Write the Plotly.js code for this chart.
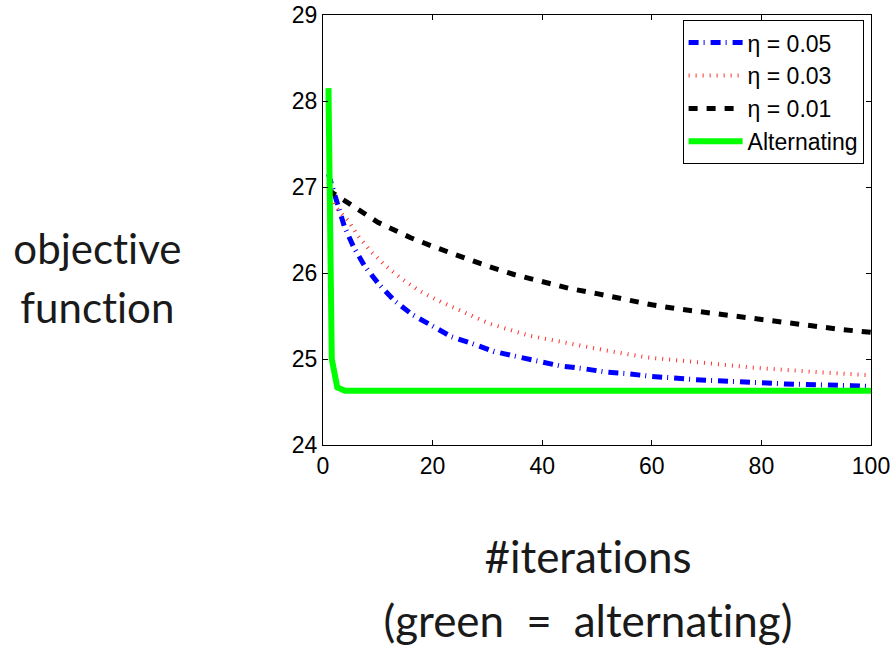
<!DOCTYPE html>
<html>
<head>
<meta charset="utf-8">
<script src="https://cdn.plot.ly/plotly-3.0.1.min.js"></script>
<style>
html,body{margin:0;padding:0;background:#fff;}
#chart{width:894px;height:648px;}
#chart text{font-variant-ligatures:none;font-feature-settings:"liga" 0, "clig" 0, "dlig" 0;}
</style>
</head>
<body>
<div id="chart"></div>
<script>
// Series
const etaHighX = [1, 2.5, 3.9, 5.6, 7.6, 10.2, 13, 16.2, 19.7, 23.4, 27.2, 31.1, 35.2, 39.2, 43.3, 47.3, 51.4, 55.5, 59.6, 67.9, 76.1, 84.3, 96.5, 100];
const etaHighY = [27.15, 26.81, 26.54, 26.30, 26.08, 25.87, 25.68, 25.52, 25.39, 25.26, 25.18, 25.09, 25.03, 24.97, 24.92, 24.89, 24.85, 24.83, 24.80, 24.76, 24.73, 24.71, 24.69, 24.68];

const etaMidX = [1, 2.2, 4.6, 6.4, 8.9, 11.3, 14, 17.4, 21, 24.7, 30.4, 37.7, 45, 52.4, 59, 65.1, 78.5, 89.5, 100];
const etaMidY = [27.05, 26.77, 26.61, 26.43, 26.24, 26.09, 25.95, 25.80, 25.68, 25.57, 25.41, 25.27, 25.18, 25.09, 25.02, 24.98, 24.90, 24.85, 24.81];

const etaLowX = [1, 2, 4, 7, 10, 13, 16, 20, 25, 30, 35, 40, 45, 50, 55, 60, 65, 70, 75, 80, 85, 90, 95, 100];
const etaLowY = [26.97, 26.92, 26.84, 26.71, 26.59, 26.50, 26.41, 26.31, 26.19, 26.08, 25.98, 25.90, 25.82, 25.76, 25.69, 25.63, 25.58, 25.54, 25.49, 25.45, 25.41, 25.37, 25.34, 25.31];

const altX = [1, 1.6, 2.6, 4, 100];
const altY = [28.15, 25.0, 24.67, 24.63, 24.63];

const seriesNames = ['\u03b7 = 0.05', '\u03b7 = 0.03', '\u03b7 = 0.01', 'Alternating'];
const xTicks = [0, 20, 40, 60, 80, 100];
const yTicks = [24, 25, 26, 27, 28, 29];
const yLabelLines = ['objective', 'function'];
const xLabelLines = ['#iterations', '(green\u2002=\u2002alternating)'];

const traces = [
  {x: etaHighX, y: etaHighY, name: seriesNames[0], mode: 'lines',
   line: {color: '#0000ff', width: 5, dash: '10px,5px,1px,6px'}},
  {x: etaMidX, y: etaMidY, name: seriesNames[1], mode: 'lines',
   line: {color: '#ff3030', width: 4, dash: '1px,6px'}},
  {x: etaLowX, y: etaLowY, name: seriesNames[2], mode: 'lines',
   line: {color: '#000000', width: 5, dash: '9px,9px'}},
  {x: altX, y: altY, name: seriesNames[3], mode: 'lines',
   line: {color: '#00ff00', width: 6}}
];

const tickFont = {family: 'Liberation Sans, Arial, sans-serif', size: 23, color: '#000'};
const yLabelFont = {family: 'Lato, sans-serif', size: 42, color: '#1a1a1a'};
const xLabelFont = {family: 'Lato, sans-serif', size: 44, color: '#1a1a1a'};

const layout = {
  width: 894, height: 648,
  margin: {l: 323, r: 23, t: 15, b: 203},
  paper_bgcolor: '#fff', plot_bgcolor: '#fff',
  showlegend: true,
  xaxis: {range: [0, 100], tickvals: xTicks, ticks: 'inside', ticklen: 5, tickcolor: '#000',
          showline: true, linecolor: '#000', linewidth: 1, mirror: 'ticks',
          showgrid: false, zeroline: false, tickfont: tickFont},
  yaxis: {range: [24, 29], tickvals: yTicks, ticks: 'inside', ticklen: 5, tickcolor: '#000',
          showline: true, linecolor: '#000', linewidth: 1, mirror: 'ticks',
          showgrid: false, zeroline: false, tickfont: tickFont},
  legend: {x: 0.9865, y: 0.988, xanchor: 'right', yanchor: 'top',
           bgcolor: '#fff', bordercolor: '#000', borderwidth: 1,
           font: {family: 'Liberation Sans, Arial, sans-serif', size: 23, color: '#000'},
           itemwidth: 54, tracegroupgap: 0},
  annotations: [
    {text: yLabelLines[0], xref: 'paper', yref: 'paper', x: -0.412, y: 0.459, showarrow: false,
     xanchor: 'center', yanchor: 'middle', font: yLabelFont},
    {text: yLabelLines[1], xref: 'paper', yref: 'paper', x: -0.412, y: 0.320, showarrow: false,
     xanchor: 'center', yanchor: 'middle', font: yLabelFont},
    {text: xLabelLines[0], xref: 'paper', yref: 'paper', x: 0.4836, y: -0.257, showarrow: false,
     xanchor: 'center', yanchor: 'middle', font: xLabelFont},
    {text: xLabelLines[1], xref: 'paper', yref: 'paper', x: 0.4836, y: -0.408, showarrow: false,
     xanchor: 'center', yanchor: 'middle', font: xLabelFont}
  ]
};

Plotly.newPlot('chart', traces, layout, {displayModeBar: false, staticPlot: true});
</script>
</body>
</html>
